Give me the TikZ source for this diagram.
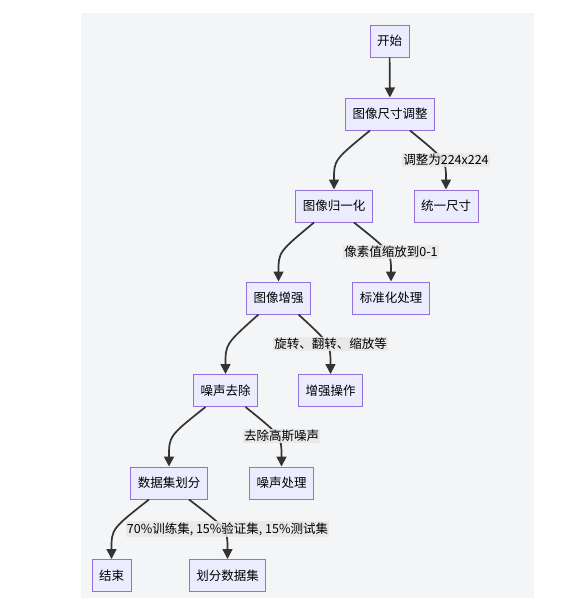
\documentclass[tikz,border=0pt]{standalone}
\usepackage{fontspec}
\newfontfamily\cjk{Noto Sans CJK SC}
\usetikzlibrary{arrows.meta}
\definecolor{boxfill}{HTML}{ECECFF}
\definecolor{boxline}{HTML}{9370DB}
\definecolor{edgecol}{HTML}{333333}
\definecolor{lblfill}{HTML}{E8E8E8}
\definecolor{canvas}{HTML}{F4F5F7}
\tikzset{
  stepbox/.style={draw=boxline,fill=boxfill,line width=1pt,shape=rectangle,
    minimum height=32pt,inner xsep=7pt,font=\cjk\fontsize{12.5}{15}\selectfont},
  edgelbl/.style={fill=lblfill,fill opacity=0.85,text opacity=1,inner xsep=1pt,
    inner ysep=1.5pt,font=\cjk\fontsize{12.5}{15}\selectfont},
  flow/.style={draw=edgecol,line width=1.7pt,-{Triangle[length=10pt,width=10pt]}}
}
\begin{document}
\begin{tikzpicture}[x=1pt,y=-1pt]
  \fill[canvas] (81,13) rectangle (534,598);
  \useasboundingbox (0,0) rectangle (581,613);
  \node[stepbox] (start)     at (389.5,41)  {开始};
  \node[stepbox] (resize)    at (390,114)   {图像尺寸调整};
  \node[stepbox] (normalize) at (334,206)   {图像归一化};
  \node[stepbox] (unify)     at (446,206)   {统一尺寸};
  \node[stepbox] (augment)   at (278.5,298) {图像增强};
  \node[stepbox] (standard)  at (391,298)   {标准化处理};
  \node[stepbox] (denoise)   at (225.5,390.5) {噪声去除};
  \node[stepbox] (augop)     at (330.5,390.5) {增强操作};
  \node[stepbox] (split)     at (169,483)   {数据集划分};
  \node[stepbox] (noiseop)   at (281.5,483) {噪声处理};
  \node[stepbox] (finish)    at (111.5,575.5) {结束};
  \node[stepbox] (dosplit)   at (227.5,575.5) {划分数据集};
  \coordinate (l1) at (unify.north |- 0,160);
  \coordinate (l2) at (standard.north |- 0,252);
  \coordinate (l3) at (augop.north |- 0,344);
  \coordinate (l4) at (noiseop.north |- 0,436);
  \coordinate (l5) at (dosplit.north |- 0,529);
  \draw[flow] (start) -- (resize);
  \draw[flow] ([xshift=-20pt]resize.south) .. controls (normalize |- l1) .. (normalize);
  \draw[flow] ([xshift=20pt]resize.south) .. controls (l1) .. (unify);
  \draw[flow] ([xshift=-20pt]normalize.south) .. controls (augment |- l2) .. (augment);
  \draw[flow] ([xshift=20pt]normalize.south) .. controls (l2) .. (standard);
  \draw[flow] ([xshift=-20pt]augment.south) .. controls (denoise |- l3) .. (denoise);
  \draw[flow] ([xshift=20pt]augment.south) .. controls (l3) .. (augop);
  \draw[flow] ([xshift=-20pt]denoise.south) .. controls (split |- l4) .. (split);
  \draw[flow] ([xshift=20pt]denoise.south) .. controls (l4) .. (noiseop);
  \draw[flow] ([xshift=-20pt]split.south) .. controls (finish |- l5) .. (finish);
  \draw[flow] ([xshift=20pt]split.south) .. controls (l5) .. (dosplit);
  \node[edgelbl] at (l1) {调整为224x224};
  \node[edgelbl] at (l2) {像素值缩放到0-1};
  \node[edgelbl] at (l3) {旋转、翻转、缩放等};
  \node[edgelbl] at (l4) {去除高斯噪声};
  \node[edgelbl] at (l5) {70\%训练集, 15\%验证集, 15\%测试集};
\end{tikzpicture}
\end{document}
